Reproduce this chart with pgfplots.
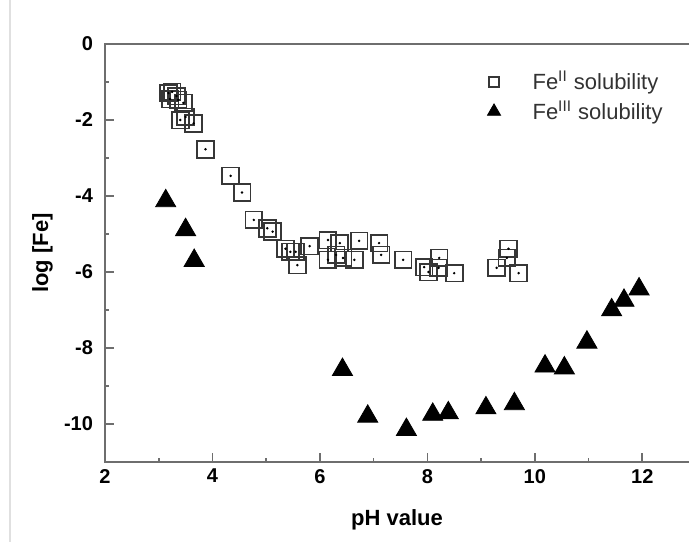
\documentclass[border=0pt]{standalone}
\usepackage{fontspec}
\setmainfont{Liberation Sans}
\usepackage{pgfplots}
\usepackage{pgfplotstable}
\pgfplotsset{compat=1.18}

\definecolor{axisgray}{RGB}{110,110,110}
\definecolor{sqedge}{RGB}{55,55,55}
\definecolor{legtext}{RGB}{50,50,50}

\pgfplotsset{widemark legend/.style={legend image code/.code={%
  \draw[##1] plot coordinates {(0cm,0cm)}; \path (-0.2cm,0cm) (0.6cm,0cm);}}}

% Fe(II) solubility, open squares
\pgfplotstableread{
ph logfe
3.18 -1.29
3.25 -1.26
3.21 -1.45
3.33 -1.37
3.36 -1.47
3.46 -1.55
3.40 -2.00
3.50 -1.92
3.65 -2.09
3.87 -2.77
4.34 -3.47
4.55 -3.91
4.77 -4.63
5.02 -4.85
5.12 -4.94
5.36 -5.39
5.45 -5.47
5.55 -5.47
5.58 -5.82
5.81 -5.32
6.15 -5.16
6.37 -5.24
6.15 -5.68
6.30 -5.55
6.43 -5.63
6.73 -5.18
6.64 -5.68
7.10 -5.24
7.14 -5.55
7.55 -5.68
8.22 -5.63
8.21 -5.89
7.94 -5.87
8.02 -6.00
8.50 -6.03
9.51 -5.39
9.48 -5.63
9.29 -5.89
9.70 -6.03
}\feii

% Fe(III) solubility, filled triangles
\pgfplotstableread{
ph logfe
3.13 -4.13
3.50 -4.89
3.66 -5.70
6.42 -8.57
6.89 -9.80
7.61 -10.15
8.10 -9.75
8.39 -9.71
9.09 -9.58
9.62 -9.47
10.19 -8.48
10.55 -8.53
10.97 -7.85
11.43 -7.00
11.66 -6.75
11.94 -6.45
}\feiii

\begin{document}
\begin{tikzpicture}
\begin{axis}[
  name=ax,
  scale only axis, width=292pt, height=209pt,
  xmin=2, xmax=12.87, ymin=-11, ymax=0,
  axis line style={draw=none},
  tick pos=left, tick align=inside,
  xtick={2,4,6,8,10,12}, xticklabels={2,4,6,8,10,12},
  ytick={-10,-8,-6,-4,-2,0}, yticklabels={-10,-8,-6,-4,-2,0},
  minor x tick num=1, minor y tick num=1,
  major tick length=4.5pt, minor tick length=2pt,
  every tick/.append style={axisgray, line width=0.8pt},
  tick label style={font=\fontsize{10}{12}\selectfont\bfseries},
  yticklabel style={xshift=-2.5pt},
  xlabel={pH value}, ylabel={log [Fe]},
  label style={font=\fontsize{11}{13}\selectfont\bfseries},
  xlabel style={at={(axis description cs:0.5,-0.139)}, anchor=center},
  ylabel style={at={(axis description cs:-0.107,0.5)}, anchor=center},
  legend cell align=left,
  legend style={at={(axis description cs:0.635,0.955)}, anchor=north west,
    draw=none, fill=none, text=legtext,
    font=\fontsize{11}{13}\selectfont, row sep=0pt},
]
\addplot[only marks, mark=square, mark size=4.2pt,
  mark options={draw=sqedge, line width=0.9pt, fill=none}, forget plot] table {\feii};
\addplot[only marks, mark=*, mark size=0.4pt,
  mark options={draw=none, fill=sqedge}, forget plot] table {\feii};
\addplot[only marks, mark=triangle*, mark size=5.8pt,
  mark options={fill=black, draw=black}, forget plot] table {\feiii};

\addlegendimage{only marks, mark=square, mark size=2.5pt,
  mark options={draw=sqedge, line width=0.7pt, fill=none}, widemark legend}
\addlegendentry{Fe\textsuperscript{II} solubility}
\addlegendimage{only marks, mark=triangle*, mark size=3.8pt,
  mark options={fill=black, draw=black}, widemark legend}
\addlegendentry{Fe\textsuperscript{III} solubility}
\end{axis}
% frame: top, left and bottom (right side is cut off in the original)
\draw[axisgray, line width=1.1pt] (ax.north east) -- (ax.north west) -- (ax.south west) -- (ax.south east);
\draw[black!12, line width=1pt] ([xshift=-47.5pt,yshift=-40pt]ax.south west) -- ([xshift=-47.5pt,yshift=22pt]ax.north west);
\pgfresetboundingbox
\path ([shift={(-52.5pt,-40pt)}]ax.south west) rectangle ([shift={(0pt,22pt)}]ax.north east);
\end{tikzpicture}
\end{document}
